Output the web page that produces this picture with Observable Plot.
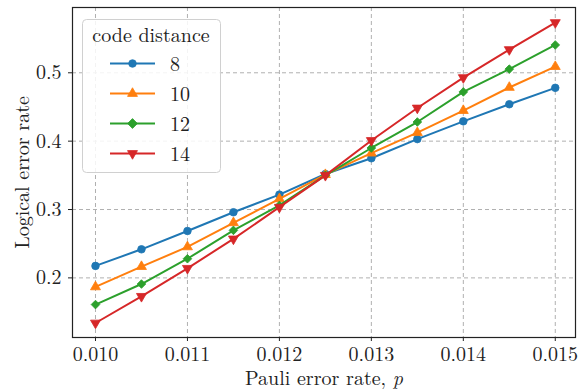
<!DOCTYPE html>
<html>
<head>
<meta charset="utf-8">
<script src="https://cdn.jsdelivr.net/npm/d3@7"></script>
<script src="https://cdn.jsdelivr.net/npm/@observablehq/plot@0.6"></script>
<style>
  html, body { margin: 0; padding: 0; background: white; }
  #wrap { position: relative; width: 580px; height: 390px; font-family: "Latin Modern Roman", "Liberation Serif", serif; }
  #wrap svg text { font-family: "Latin Modern Roman", "Liberation Serif", serif !important; }
  #legend { position: absolute; left: 82px; top: 19px; }
</style>
</head>
<body>
<div id="wrap"></div>
<script>
// ---- data ----
const pauliRate = [0.0100, 0.0105, 0.0110, 0.0115, 0.0120, 0.0125, 0.0130, 0.0135, 0.0140, 0.0145, 0.0150];
const distances = [8, 10, 12, 14];
const d8  = [0.2175, 0.2418, 0.2686, 0.2960, 0.3218, 0.3520, 0.3750, 0.4030, 0.4290, 0.4540, 0.4780];
const d10 = [0.1868, 0.2165, 0.2453, 0.2806, 0.3156, 0.3510, 0.3824, 0.4124, 0.4447, 0.4785, 0.5090];
const d12 = [0.1610, 0.1910, 0.2280, 0.2695, 0.3060, 0.3500, 0.3900, 0.4280, 0.4720, 0.5054, 0.5407];
const d14 = [0.1340, 0.1730, 0.2140, 0.2570, 0.3034, 0.3500, 0.4010, 0.4485, 0.4930, 0.5340, 0.5735];
const xTicks = [0.010, 0.011, 0.012, 0.013, 0.014, 0.015];
const yTicks = [0.2, 0.3, 0.4, 0.5];
const legendTitle = "code distance";
const xLabel = "Pauli error rate, ";
const xLabelVar = "p";
const yLabel = "Logical error rate";

// ---- styles ----
const seriesValues = [d8, d10, d12, d14];
const colors = ["#1f77b4", "#ff7f0e", "#2ca02c", "#d62728"];
const symbols = ["circle", "triangle", "diamond2", "triangle"];
const rotations = [0, 0, 0, 180];
const radii = [3.8, 3.7, 3.9, 3.7];
const font = "Latin Modern Roman";

const seriesMarks = [];
seriesValues.forEach((vals, i) => {
  const rows = pauliRate.map((x, j) => ({p: x, v: vals[j], d: distances[i]}));
  seriesMarks.push(Plot.line(rows, {x: "p", y: "v", stroke: colors[i], strokeWidth: 2}));
  seriesMarks.push(Plot.dot(rows, {x: "p", y: "v", fill: colors[i], stroke: colors[i], strokeWidth: 0.8,
    symbol: symbols[i], rotate: rotations[i], r: radii[i]}));
});

const chart = Plot.plot({
  width: 580,
  height: 390,
  marginLeft: 72,
  marginRight: 5,
  marginTop: 7,
  marginBottom: 53,
  style: {fontFamily: font, fontSize: "20px", color: "#222", background: "white"},
  x: {domain: [0.00975, 0.01522]},
  y: {domain: [0.1128, 0.5955]},
  marks: [
    Plot.gridX(xTicks, {stroke: "#b0b0b0", strokeOpacity: 1, strokeWidth: 1, strokeDasharray: "4,3"}),
    Plot.gridY(yTicks, {stroke: "#b0b0b0", strokeOpacity: 1, strokeWidth: 1, strokeDasharray: "4,3"}),
    Plot.axisX({ticks: xTicks, tickFormat: d3.format(".3f"), tickSize: 4, tickPadding: 5, fontSize: 20,
      label: xLabel + xLabelVar, labelAnchor: "center", labelArrow: "none", labelOffset: 47}),
    Plot.axisY({ticks: yTicks, tickFormat: d3.format(".1f"), tickSize: 4, tickPadding: 7, fontSize: 20,
      label: yLabel, labelAnchor: "center", labelArrow: "none", labelOffset: 58}),
    ...seriesMarks,
    Plot.frame({stroke: "#222", strokeWidth: 1.2})
  ]
});

d3.select(chart).attr("font-family", font);

// italic p in the x label
d3.select(chart).selectAll("g[aria-label='x-axis label'] text").each(function() {
  const t = d3.select(this);
  t.text(null);
  t.append("tspan").text(xLabel);
  t.append("tspan").attr("font-style", "italic").text(xLabelVar);
});

document.getElementById("wrap").appendChild(chart);

// ---- legend (inside the axes, upper left) ----
const lw = 138, lh = 153;
const leg = d3.select("#wrap").append("svg").attr("id", "legend")
  .attr("width", lw + 2).attr("height", lh + 2)
  .attr("font-family", font);
leg.append("rect").attr("x", 0.5).attr("y", 0.5).attr("width", lw).attr("height", lh)
  .attr("rx", 4).attr("fill", "white").attr("fill-opacity", 0.85)
  .attr("stroke", "#d0d0d0").attr("stroke-width", 1);
leg.append("text").attr("x", 69).attr("y", 23).attr("text-anchor", "middle")
  .attr("font-size", 20).attr("fill", "#222").text(legendTitle);
distances.forEach((d, i) => {
  const cy = 44.5 + i * 30;
  const g = leg.append("g");
  g.append("line").attr("x1", 28).attr("x2", 73).attr("y1", cy).attr("y2", cy)
    .attr("stroke", colors[i]).attr("stroke-width", 2);
  const type = {circle: d3.symbolCircle, triangle: d3.symbolTriangle, diamond2: d3.symbolSquare}[symbols[i]];
  const rot = symbols[i] === "diamond2" ? 45 : rotations[i];
  const size = Math.PI * radii[i] * radii[i];
  g.append("path").attr("d", d3.symbol(type, size)())
    .attr("transform", `translate(50.5,${cy}) rotate(${rot})`)
    .attr("fill", colors[i]).attr("stroke", colors[i]).attr("stroke-width", 0.8);
  g.append("text").attr("x", 88).attr("y", cy + 7).attr("font-size", 20).attr("fill", "#222").text(d);
});
</script>
</body>
</html>
